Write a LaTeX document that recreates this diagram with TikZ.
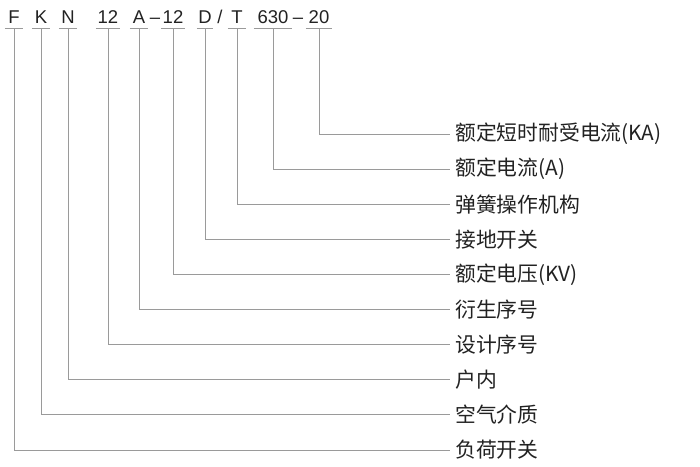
\documentclass[tikz,border=0pt]{standalone}
\usepackage{fontspec}
\setmainfont{Noto Sans CJK SC}
\newfontfamily\codefont{Liberation Sans}
\usepackage{xcolor}
\definecolor{leadgray}{HTML}{9A9A9A}
\definecolor{inkgray}{HTML}{222222}

\begin{document}
\begin{tikzpicture}[x=1pt,y=-1pt,
  code/.style={anchor=base, inner xsep=0, inner ysep=5pt, text depth=0pt, text=inkgray, font=\codefont\fontsize{18.5}{20}\selectfont},
  sep/.style={anchor=base, inner sep=0, text=inkgray, font=\codefont\fontsize{18.5}{20}\selectfont},
  meaning/.style={anchor=west, inner xsep=5pt, inner ysep=0, text=inkgray, font=\fontsize{20.8}{22}\selectfont},
  lead/.style={draw=leadgray, line width=1pt}]
\useasboundingbox (0,0) rectangle (700,466);
% model code parts and their meanings
\foreach \part/\x/\w/\txt [count=\i] in {F/14/9/负荷开关, K/41/9/空气介质, N/68/9/户内, 12/108/12/设计序号, A/139/9/衍生序号, 12/173/12/额定电压(KV), D/205/8/接地开关, T/237/9/弹簧操作机构, 630/273/19/额定电流(A), 20/319/13/额定短时耐受电流(KA)} {
 \node[code, minimum width=2*\w] (c\i) at (\x,23) {\part};
 \node[meaning] (l\i) at (450,{450-(\i-1)*35.1}) {\txt};
 \draw[lead] (c\i.south west) -- (c\i.south east);
 \draw[lead] (c\i.south) |- (l\i.west);
}
\node[sep] (s1) at (155,23) {–};
\node[sep] (s2) at (220,23) {/};
\node[sep] (s3) at (298,23) {–};
\end{tikzpicture}
\end{document}
